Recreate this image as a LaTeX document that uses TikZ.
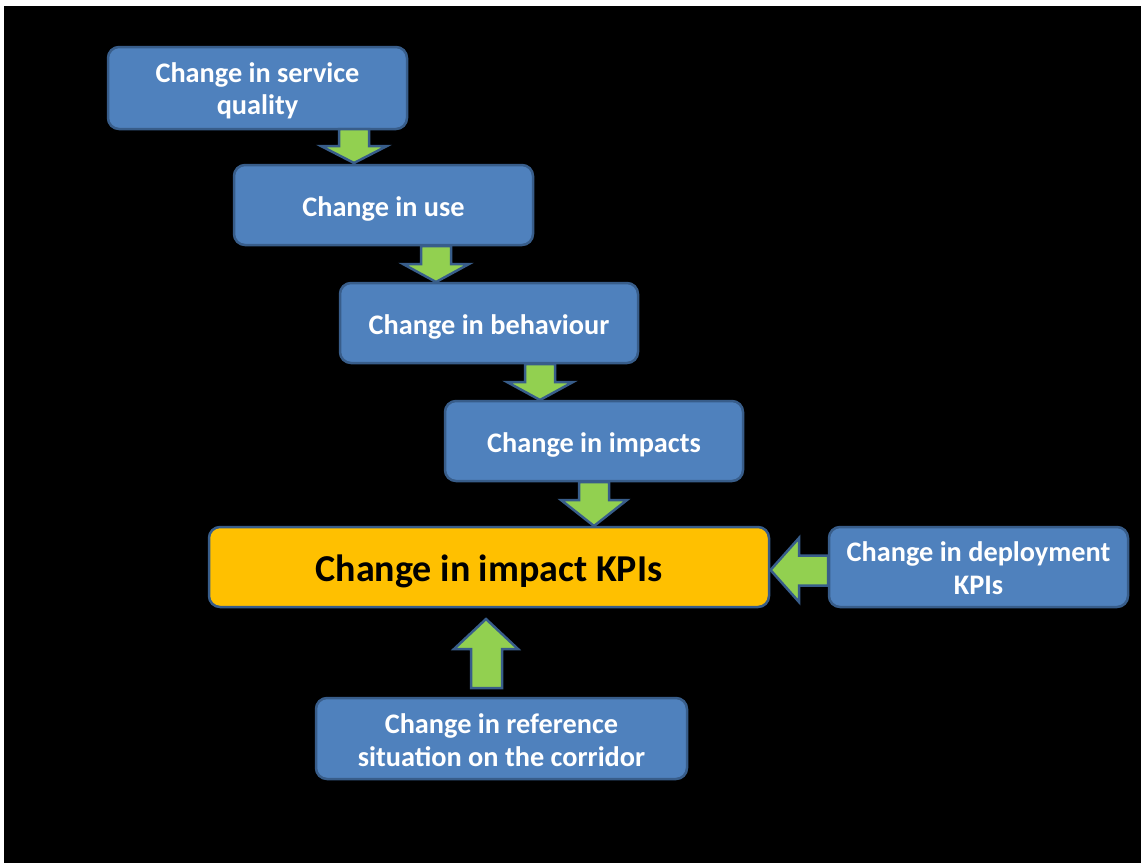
\documentclass[tikz,border=0pt]{standalone}
\usepackage{fontspec}
\setmainfont{Carlito}
\definecolor{boxblue}{RGB}{79,129,189}
\definecolor{edgeblue}{RGB}{56,93,138}
\definecolor{arrowgreen}{RGB}{146,208,80}
\definecolor{kpiorange}{RGB}{255,192,0}
\newcommand{\lbl}[2][-5pt]{\raisebox{#1}[\height][\depth]{\begin{tabular}{@{}c@{}}#2\end{tabular}}}
\tikzset{
  bluebox/.style={draw=edgeblue, line width=2.5pt, fill=boxblue, rounded corners=11pt,
    text=white, font=\fontsize{28.3}{32.5}\selectfont\bfseries, align=center, inner sep=0pt},
  orangebox/.style={draw=edgeblue, line width=2.5pt, fill=kpiorange, rounded corners=11pt,
    text=black, font=\fontsize{38}{42}\selectfont\bfseries, align=center, inner sep=0pt},
  blockarrow/.style={draw=edgeblue, line width=2.5pt, fill=arrowgreen, line join=miter}
}
\begin{document}
\begin{tikzpicture}[x=1pt,y=-1pt]
\fill[white] (0,0) rectangle (1141,863);
\useasboundingbox (0,0) rectangle (1141,863);
\fill[black] (4,6) rectangle (1141,863);

% boxes
\node[bluebox, minimum width=299pt, minimum height=82pt] (b1) at (257.5,88) {\lbl[-4pt]{Change in service\\quality}};
\node[bluebox, minimum width=299pt, minimum height=80pt] (b2) at (383.5,205) {\lbl{Change in use}};
\node[bluebox, minimum width=298pt, minimum height=80pt] (b3) at (489,323) {\lbl{Change in behaviour}};
\node[bluebox, minimum width=298pt, minimum height=80pt] (b4) at (594,441) {\lbl{Change in impacts}};
\node[orangebox, minimum width=560pt, minimum height=80pt] (k) at (489,567) {\lbl[-6pt]{Change in impact KPIs}};
\node[bluebox, minimum width=299pt, minimum height=80pt] (d) at (978.5,567) {\lbl[-4.5pt]{Change in deployment\\KPIs}};
\node[bluebox, minimum width=371pt, minimum height=81pt] (r) at (501.5,738.5) {\lbl{Change in reference\\situation on the corridor}};

% down arrows between stacked boxes
\newcommand{\downblock}[4]{% x, top, headstart, tip
  \draw[blockarrow] (#1-15,#2) -- (#1+15,#2) -- (#1+15,#3) -- (#1+33,#3) -- (#1,#4)
    -- (#1-33,#3) -- (#1-15,#3) -- cycle;}
\downblock{354}{129}{146}{163}
\downblock{436}{246}{264}{282}
\downblock{540}{364}{382}{400}
\downblock{594}{482}{500}{526}

% left arrow from deployment box to KPI box
\draw[blockarrow] (828,555.5) -- (799,555.5) -- (799,538) -- (770.5,570) -- (799,602)
  -- (799,585.5) -- (828,585.5) -- cycle;

% up arrow from reference box to KPI box
\draw[blockarrow] (471,688) -- (471,649) -- (454,649) -- (486,619) -- (518,649)
  -- (502,649) -- (502,688) -- cycle;
\end{tikzpicture}
\end{document}
